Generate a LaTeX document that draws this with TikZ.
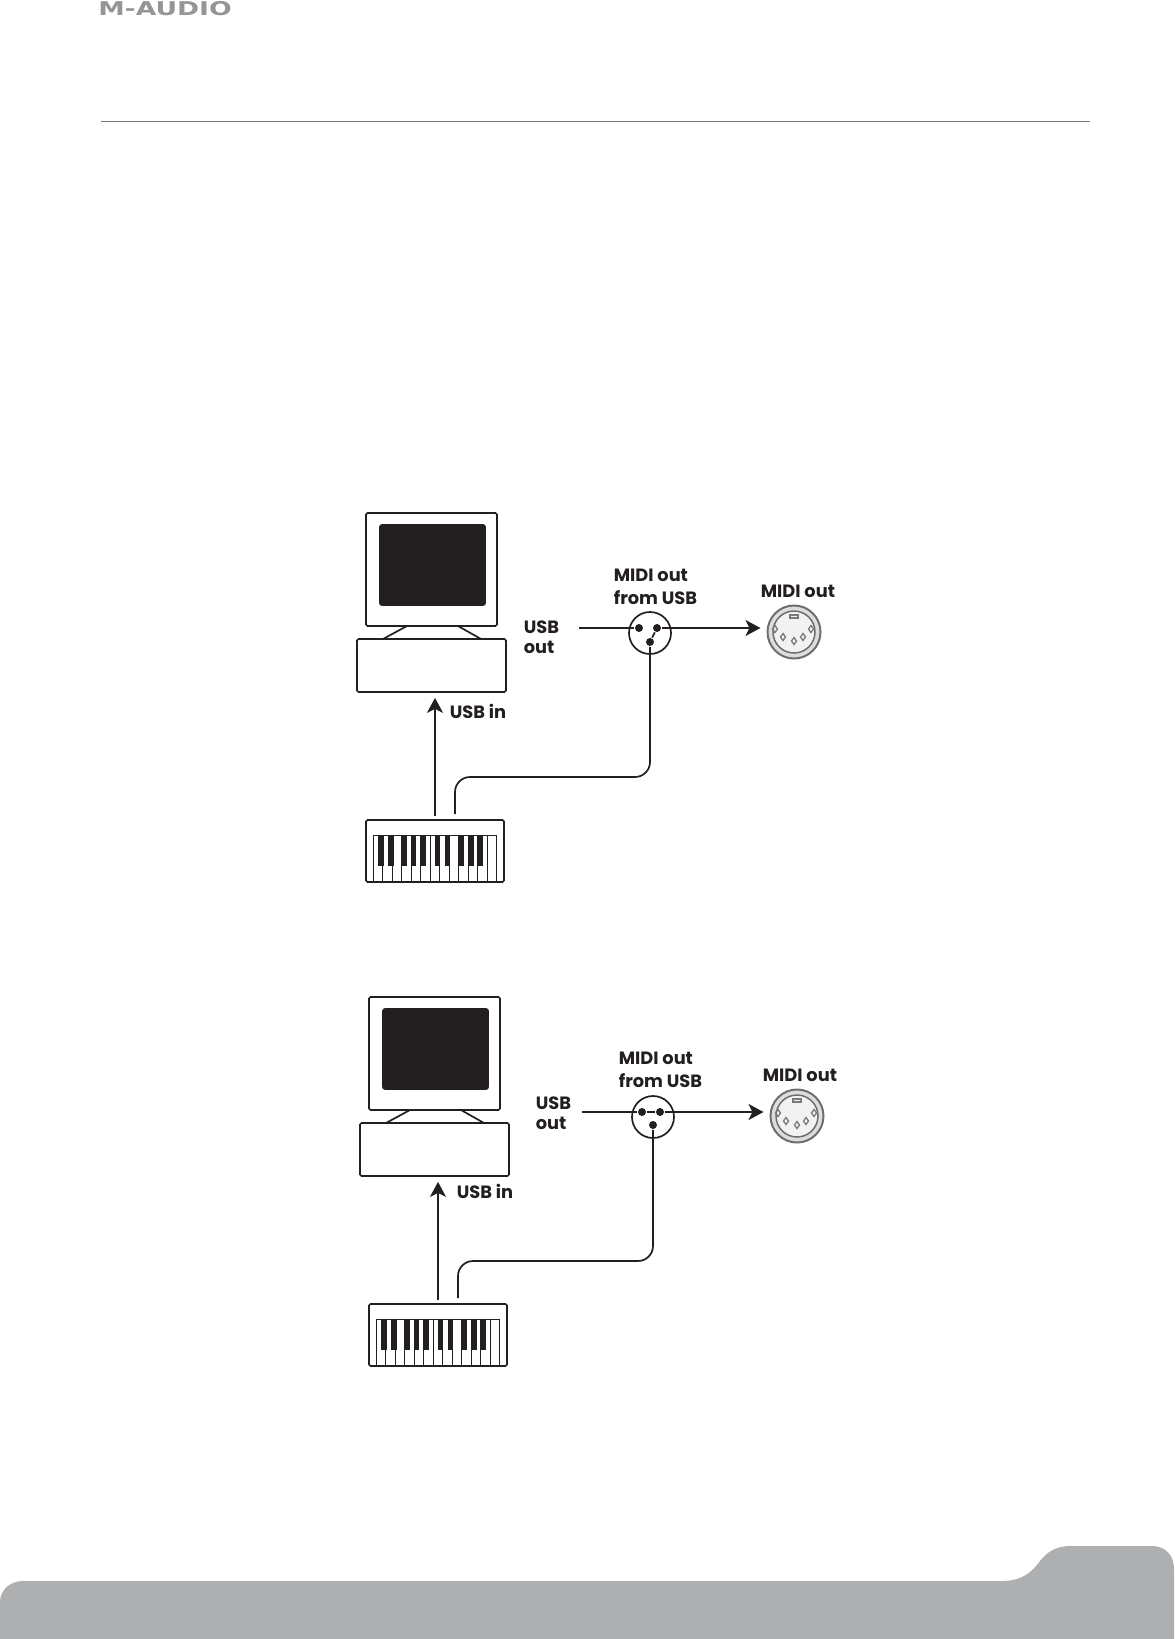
\documentclass[tikz,border=0pt]{standalone}
\usepackage{fontspec}
\setmainfont{Poppins}
\newfontfamily\logofont{DejaVu Sans}
\usetikzlibrary{arrows.meta}
\definecolor{ink}{HTML}{231F20}
\definecolor{band}{HTML}{AEAFB1}
\begin{document}
\begin{tikzpicture}[x=1pt, y=-1pt, line width=1.7pt, draw=ink, >={Stealth[length=15pt, width=16pt, inset=4pt]},
    main/.style = {draw, rectangle, rounded corners=1.5pt, inner sep=0pt, fill=white},
    label/.style = {font=\fontsize{17.8}{23.5}\bfseries, text=ink, inner sep=0pt, align=left},
    contact/.style = {circle, fill=ink, inner sep=0pt, minimum size=8pt},
    jack/.style = {draw, circle, inner sep=0pt, minimum size=42pt},
    din/.style = {draw=ink!65, circle, inner sep=0pt, minimum size=53pt, fill=ink!15, line width=2pt}]
      \useasboundingbox (0,0) rectangle (1175,1639);

      % page furniture
      \node[font=\logofont\fontsize{19}{19}\bfseries, text=band!85!black, xscale=1.4, inner sep=0pt] (logo) at (165,9) {M-AUDIO};
      \coordinate (ruleleft) at (101,121.5);
      \coordinate (ruleright) at (1090,121.5);
      \draw[band!70!black, line width=1pt] (ruleleft) -- (ruleright);
      \fill[band] (0,1639) -- (0,1602) .. controls (0,1590) and (10,1581) .. (23,1581) -- (1002,1581)
        .. controls (1022,1581) and (1032,1572) .. (1040,1561) .. controls (1047,1552) and (1056,1546) .. (1070,1546)
        -- (1152,1546) .. controls (1166,1546) and (1174,1556) .. (1174,1569) -- (1174,1639) -- cycle;

      % switch set to USB + keyboard
      \node[main, minimum width=131pt, minimum height=113pt] (monitor1) at (431.5,569.5) {};
      \node[main, fill=ink, rounded corners=2pt, minimum width=105pt, minimum height=80pt] (screen1) at (432.5,565) {};
      \node[main, minimum width=149pt, minimum height=53pt] (base1) at (431.5,665.5) {};
      \node[main, minimum width=138pt, minimum height=62pt] (keys1) at (435,851) {};
      \node[jack] (jack1) at (650,633) {};
      \node[contact] (a1) at (639,628) {};
      \node[contact] (b1) at (657,628) {};
      \node[contact] (c1) at (650,642) {};
      \node[din] (din1) at (794,632) {};
      \node[label, anchor=west] (usbout1) at (523,637) {USB\\[-3pt]out};
      \node[label, anchor=west] (from1) at (613,587) {MIDI out\\from USB};
      \node[label, anchor=west] (midi1) at (760,591) {MIDI out};
      \node[label, anchor=west] (usbin1) at (449,711) {USB in};
      \coordinate (free1) at (579,628);
      \coordinate (wire1) at (455,814);
      \draw (407,626) -- (383,639) (458,626) -- (481,639);
      \foreach \k in {0,...,13} \draw[line width=1pt] (373.5+\k*9.47,835) -- (373.5+\k*9.47,882);
      \draw[line width=1pt] (373.5,835) -- (497,835);
      \foreach \x in {381,391,404.3,413.7,423.3,437.3,447.3,461.7,471,480.3} \fill[ink] (\x-2.75,835) rectangle ++(5.5,31);
      \draw[ink!65, line width=1.5pt, fill=ink!6] (din1) circle (21pt);
      \foreach \x/\y in {-19/-3,-11/5,0/9,9/5,17/-3} \draw[ink!60, line width=1.3pt] (794+\x,632+\y-3.5) -- ++(2.5,3.5) -- ++(-2.5,3.5) -- ++(-2.5,-3.5) -- cycle;
      \draw[ink!60, line width=1.2pt] (790,615) rectangle (798,618);
      \path
      (free1) edge (a1)
      (b1) edge[->, shorten >=6pt] (b1 -| din1.west)
      (c1) edge (b1)
      (keys1) edge[->, shorten <=3pt, shorten >=5pt] (keys1 |- base1.south);
      \draw[rounded corners=15pt] (c1) -- (c1 |- 0,777) -- (wire1 |- 0,777) -- (wire1);

      % switch set to MIDI + keyboard
      \node[main, minimum width=131pt, minimum height=113pt] (monitor2) at (434.5,1053.5) {};
      \node[main, fill=ink, rounded corners=2pt, minimum width=105pt, minimum height=80pt] (screen2) at (435.5,1049) {};
      \node[main, minimum width=149pt, minimum height=53pt] (base2) at (434.5,1149.5) {};
      \node[main, minimum width=138pt, minimum height=62pt] (keys2) at (438,1335) {};
      \node[jack] (jack2) at (653,1117) {};
      \node[contact] (a2) at (642,1112) {};
      \node[contact] (b2) at (660,1112) {};
      \node[contact] (c2) at (653,1125) {};
      \node[din] (din2) at (797,1116) {};
      \node[label, anchor=west] (usbout2) at (535,1113) {USB\\[-3pt]out};
      \node[label, anchor=west] (from2) at (618,1070) {MIDI out\\from USB};
      \node[label, anchor=west] (midi2) at (762,1075) {MIDI out};
      \node[label, anchor=west] (usbin2) at (456,1191) {USB in};
      \coordinate (free2) at (582,1112);
      \coordinate (wire2) at (458,1298);
      \draw (410,1110) -- (386,1123) (461,1110) -- (484,1123);
      \foreach \k in {0,...,13} \draw[line width=1pt] (376.5+\k*9.47,1319) -- (376.5+\k*9.47,1366);
      \draw[line width=1pt] (376.5,1319) -- (500,1319);
      \foreach \x in {384,394,407.3,416.7,426.3,440.3,450.3,464.7,474,483.3} \fill[ink] (\x-2.75,1319) rectangle ++(5.5,31);
      \draw[ink!65, line width=1.5pt, fill=ink!6] (din2) circle (21pt);
      \foreach \x/\y in {-19/-3,-11/5,0/9,9/5,17/-3} \draw[ink!60, line width=1.3pt] (797+\x,1116+\y-3.5) -- ++(2.5,3.5) -- ++(-2.5,3.5) -- ++(-2.5,-3.5) -- cycle;
      \draw[ink!60, line width=1.2pt] (793,1099) rectangle (801,1102);
      \path
      (free2) edge (a2)
      (a2) edge (b2)
      (b2) edge[->, shorten >=6pt] (b2 -| din2.west)
      (keys2) edge[->, shorten <=3pt, shorten >=5pt] (keys2 |- base2.south);
      \draw[rounded corners=15pt] (c2) -- (c2 |- 0,1261) -- (wire2 |- 0,1261) -- (wire2);
\end{tikzpicture}
\end{document}
